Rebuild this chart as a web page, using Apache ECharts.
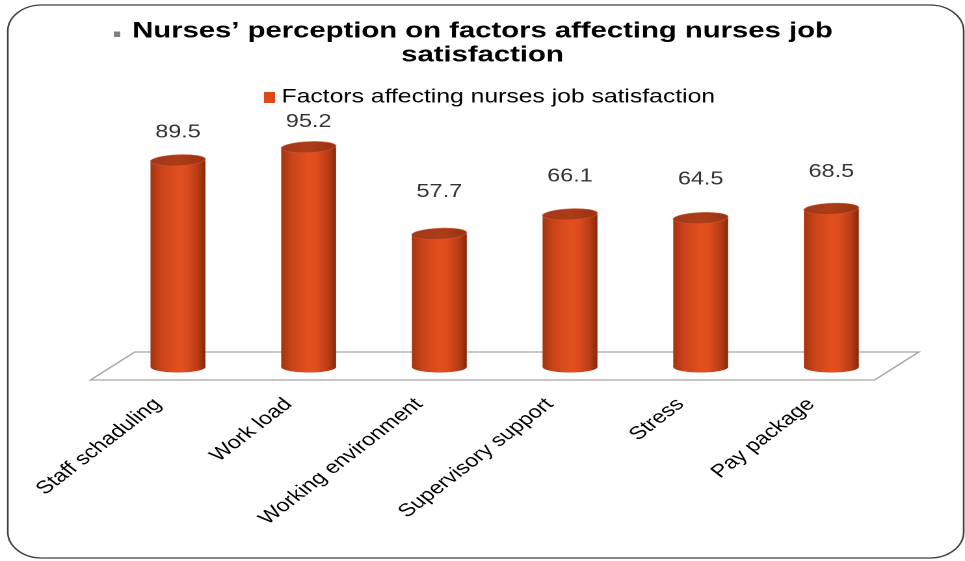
<!DOCTYPE html>
<html>
<head>
<meta charset="utf-8">
<script src="https://cdn.jsdelivr.net/npm/echarts@6/dist/echarts.min.js"></script>
<style>
  html, body { margin: 0; padding: 0; background: #fff; overflow: hidden; }
  #wrap { width: 965px; height: 561px; overflow: hidden; }
  #main { width: 742px; height: 561px; transform: scaleX(1.3005); transform-origin: 0 0; }
</style>
</head>
<body>
<div id="wrap"><div id="main"></div></div>
<script>
// ---- data ----
const categories = ['Staff schaduling', 'Work load', 'Working environment', 'Supervisory support', 'Stress', 'Pay package'];
const values = [89.5, 95.2, 57.7, 66.1, 64.5, 68.5];
const seriesName = 'Factors affecting nurses job satisfaction';
const titleLine1 = 'Nurses’ perception on factors affecting nurses job';
const titleLine2 = 'satisfaction';

const FONT = '"Liberation Sans", Arial, sans-serif';
const chart = echarts.init(document.getElementById('main'), null, { renderer: 'canvas', devicePixelRatio: 2 });

const bodyGrad = () => new echarts.graphic.LinearGradient(0, 0, 1, 0, [
  { offset: 0, color: '#a3340f' },
  { offset: 0.18, color: '#c9431a' },
  { offset: 0.5, color: '#e2501f' },
  { offset: 0.65, color: '#de4d1e' },
  { offset: 0.86, color: '#b83c15' },
  { offset: 1, color: '#86280b' }
]);
const topGrad = () => new echarts.graphic.LinearGradient(0, 0, 1, 0, [
  { offset: 0, color: '#a2371a' },
  { offset: 0.5, color: '#ad3d19' },
  { offset: 1, color: '#983311' }
]);

function renderFloor(params, api) {
  const cs = params.coordSys;
  const by = cs.y + cs.height;
  const x0 = cs.x, x1 = cs.x + cs.width;
  return {
    type: 'polygon',
    shape: { points: [[x0 + 17, by - 15], [x1 + 17, by - 15], [x1 - 17, by + 13], [x0 - 17, by + 13]] },
    style: { fill: '#ffffff', stroke: '#a6a6a6', lineWidth: 1.3 },
    silent: true
  };
}

function renderCylinder(params, api) {
  const idx = api.value(0);
  const top = api.coord([idx, api.value(1)]);
  const base = api.coord([idx, 0]);
  const w = api.size([1, 0])[0] * 0.42;
  const rx = w / 2, ry = 5.5;
  const cx = top[0];
  return {
    type: 'group',
    children: [
      { type: 'ellipse', shape: { cx: cx, cy: base[1], rx: rx, ry: ry }, style: { fill: bodyGrad() } },
      { type: 'rect', shape: { x: cx - rx, y: top[1], width: w, height: base[1] - top[1] }, style: { fill: bodyGrad() } },
      { type: 'ellipse', shape: { cx: cx, cy: top[1], rx: rx, ry: ry }, rotation: 0.06, originX: cx, originY: top[1],
        style: { fill: topGrad(), stroke: 'rgba(214,90,50,0.6)', lineWidth: 0.8 } }
    ]
  };
}

const option = {
  animation: false,
  backgroundColor: '#ffffff',
  title: [
    { text: titleLine1, left: 'center', top: 20, padding: 0,
      textStyle: { fontFamily: FONT, fontSize: 22.5, fontWeight: 'bold', color: '#000' } },
    { text: titleLine2, left: 'center', top: 44, padding: 0,
      textStyle: { fontFamily: FONT, fontSize: 22.5, fontWeight: 'bold', color: '#000' } }
  ],
  graphic: [
    { type: 'rect', shape: { x: 6, y: 5, width: 735, height: 553, r: 26 },
      style: { fill: 'none', stroke: '#404040', lineWidth: 1.3 }, silent: true, z: -10 },
    { type: 'rect', shape: { x: 87.5, y: 31.5, width: 5, height: 5.5 }, style: { fill: '#7f7f7f' }, silent: true }
  ],
  legend: {
    data: [seriesName],
    top: 83,
    left: 198,
    icon: 'rect',
    itemWidth: 8.5,
    itemHeight: 11,
    textStyle: { fontFamily: FONT, fontSize: 19, color: '#000' }
  },
  grid: { left: 86.6, right: 52.5, top: 136, bottom: 194, containLabel: false },
  xAxis: {
    type: 'category',
    data: categories,
    axisLine: { show: false },
    axisTick: { show: false },
    splitLine: { show: false },
    axisLabel: { interval: 0, rotate: 45, margin: 19, padding: [0, 22, 0, 0],
      fontFamily: FONT, fontSize: 18, color: '#000' }
  },
  yAxis: [
    { type: 'value', min: 0, max: 100, show: false },
    { type: 'value', min: -35.8, max: 87.7, show: false }
  ],
  series: [
    { type: 'custom', name: 'floor', data: [[0, 0]], renderItem: renderFloor, z: 1, silent: true },
    { type: 'custom', name: seriesName, data: values.map((v, i) => [i, v]), encode: { x: 0, y: 1 },
      renderItem: renderCylinder, itemStyle: { color: '#dc4a1b' }, z: 2 },
    { type: 'scatter', name: 'labels', yAxisIndex: 1, data: values.map((v, i) => [i, v]), clip: false,
      symbol: 'circle', symbolSize: 1, itemStyle: { color: 'rgba(0,0,0,0)' }, silent: true, z: 3,
      labelLayout: { hideOverlap: false },
      label: { show: true, position: 'inside', offset: [-8, 0], fontFamily: FONT, fontSize: 18, color: '#000',
        textBorderWidth: 0, formatter: p => p.value[1].toFixed(1) } }
  ]
};
chart.setOption(option);
</script>
</body>
</html>
